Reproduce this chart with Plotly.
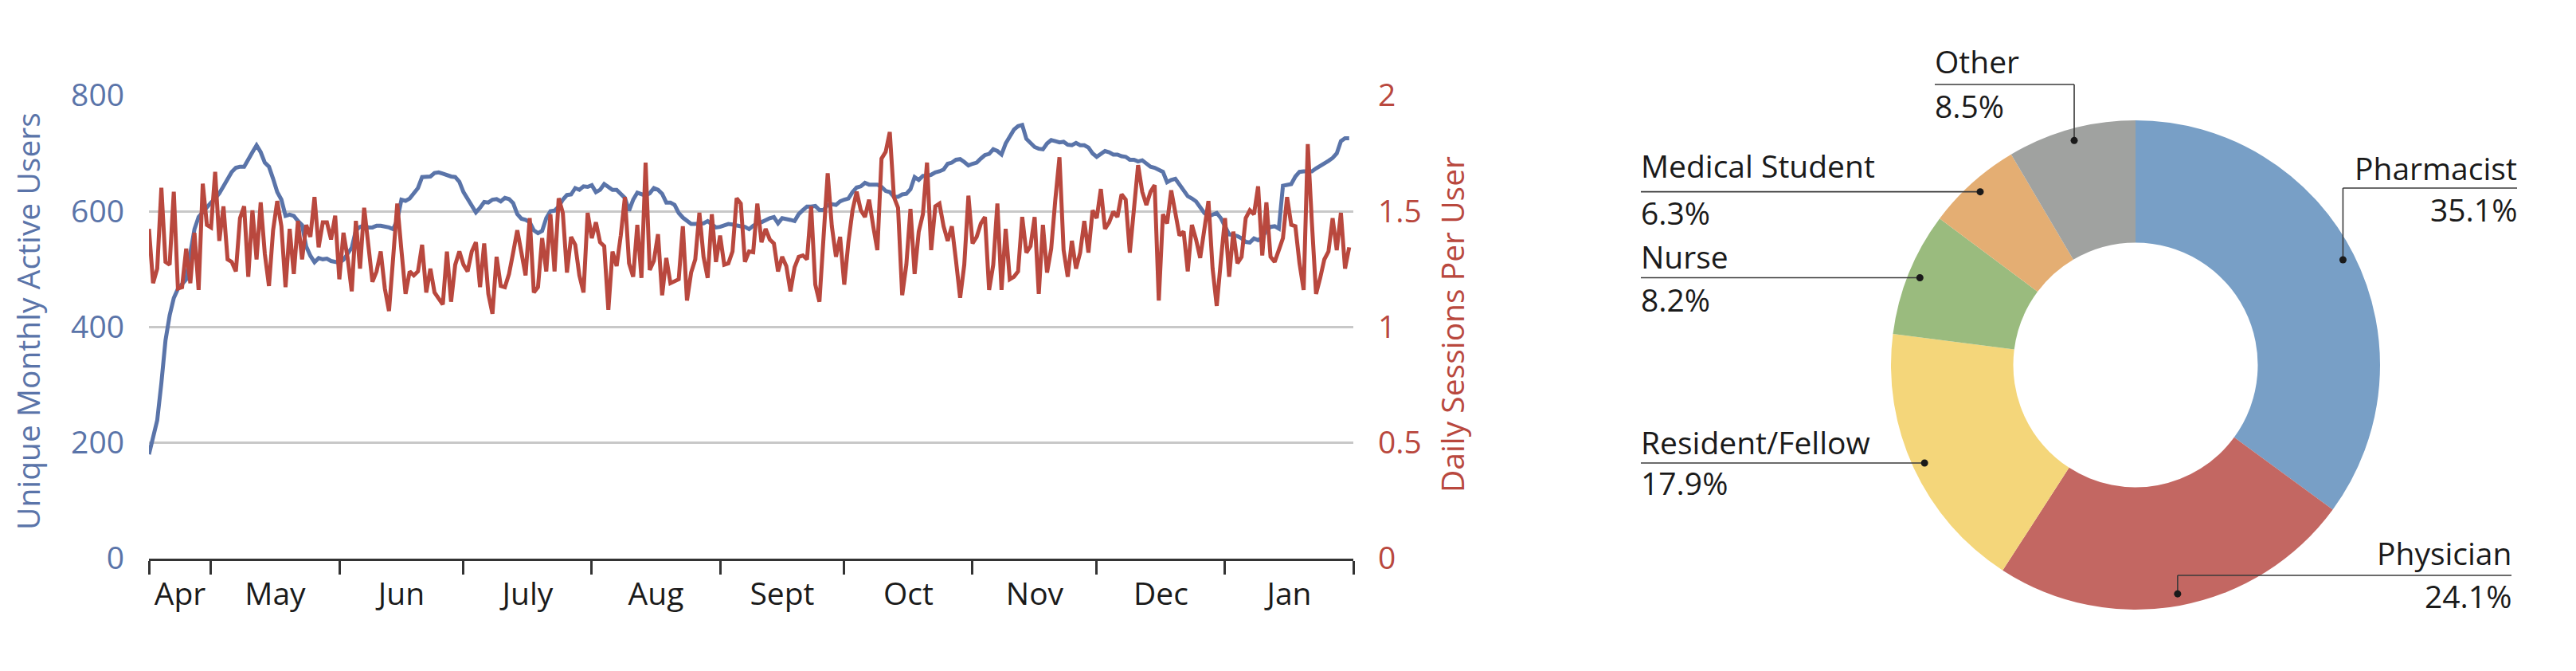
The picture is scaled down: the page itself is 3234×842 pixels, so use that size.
import math
import pandas as pd
import plotly.graph_objects as go

W, H = 3234, 842

# ---------------- data ----------------
start_date = "2017-04-16"

users = [
    180, 207, 239, 303, 377, 420, 450, 466, 473, 482, 528, 569, 590, 599, 606, 615, 622, 631, 643, 654,
    668, 675, 677, 677, 691, 702, 714, 702, 684, 677, 656, 633, 620,
    592, 594, 592, 583, 576, 539, 523, 512, 519, 517, 518, 514, 512, 511, 516, 526, 537, 567, 573, 575,
    572, 572, 575, 575, 574, 572, 569, 585, 620, 618, 622, 631,
    640, 659, 659, 660, 666, 667, 665, 662, 660, 659, 651, 633, 622, 611, 598, 606, 616, 615, 620, 621,
    617, 623, 621, 614, 595, 587, 585, 581, 567, 562, 566, 588,
    600, 601, 608, 620, 628, 629, 640, 637, 643, 642, 645, 633, 637, 647, 641, 637, 637, 631, 623, 601,
    620, 632, 629, 627, 631, 640, 637, 630, 615, 615, 611, 597,
    589, 583, 578, 578, 578, 579, 583, 577, 572, 573, 575, 578, 577, 575, 574, 573, 569, 575, 579, 581,
    585, 588, 590, 579, 588, 587, 585, 583, 595, 602, 608, 608,
    609, 602, 602, 611, 612, 611, 617, 620, 622, 633, 641, 643, 649, 646, 646, 646, 642, 635, 633, 625,
    625, 629, 630, 638, 659, 654, 661, 661, 663, 667, 669, 672, 682,
    684, 689, 690, 685, 679, 682, 684, 691, 697, 699, 707, 704, 698, 717, 730, 741, 747, 749, 725, 718,
    711, 708, 707, 717, 723, 721, 719, 720, 715, 714, 718, 714,
    714, 710, 700, 694, 700, 704, 702, 698, 698, 695, 694, 689, 689, 686, 688, 682, 677, 675, 671, 668,
    650, 654, 656, 645, 636, 626, 622, 617, 607, 597, 591, 594,
    597, 588, 572, 560, 559, 557, 553, 547, 546, 553, 550, 555, 566, 573, 574, 570, 644, 646, 647, 660,
    668, 669, 669, 669, 674, 678, 682, 687, 692, 700, 721, 726, 726,
]

sessions = [
    1.424, 1.189, 1.252, 1.601, 1.281, 1.269, 1.584, 1.166, 1.172, 1.338, 1.189, 1.407, 1.160, 1.619,
    1.441, 1.430, 1.670, 1.372, 1.521, 1.292, 1.281, 1.240, 1.470, 1.521, 1.217, 1.504, 1.292, 1.538,
    1.315, 1.177, 1.418, 1.544, 1.435,
    1.172, 1.424, 1.229, 1.458, 1.292, 1.441, 1.389, 1.561, 1.344, 1.452, 1.452, 1.378, 1.481, 1.206,
    1.407, 1.298, 1.154, 1.458, 1.252, 1.515, 1.366, 1.195, 1.240, 1.326, 1.166, 1.069, 1.298, 1.533,
    1.332, 1.143, 1.240, 1.223,
    1.240, 1.355, 1.149, 1.252, 1.149, 1.120, 1.097, 1.326, 1.109, 1.269, 1.326, 1.269, 1.240, 1.326,
    1.366, 1.172, 1.361, 1.143, 1.057, 1.303, 1.177, 1.172, 1.229, 1.321, 1.418, 1.321, 1.223, 1.470,
    1.149, 1.172, 1.384, 1.240,
    1.487, 1.240, 1.556, 1.493, 1.235, 1.389, 1.355, 1.223, 1.149, 1.493, 1.384, 1.452, 1.366, 1.349,
    1.074, 1.326, 1.263, 1.395, 1.561, 1.275, 1.217, 1.441, 1.212, 1.710, 1.246, 1.286, 1.401, 1.137,
    1.298, 1.189, 1.200, 1.206,
    1.435, 1.114, 1.235, 1.292, 1.493, 1.303, 1.212, 1.487, 1.281, 1.395, 1.269, 1.275, 1.326, 1.556,
    1.533, 1.281, 1.326, 1.323, 1.533, 1.366, 1.424, 1.378, 1.361, 1.240, 1.303, 1.263, 1.154, 1.258,
    1.303, 1.309, 1.292, 1.521,
    1.183, 1.109, 1.389, 1.664, 1.435, 1.303, 1.389, 1.183, 1.366, 1.504, 1.584, 1.504, 1.475, 1.550,
    1.435, 1.332, 1.727, 1.756, 1.842, 1.561, 1.515, 1.137, 1.269, 1.510, 1.229, 1.412, 1.487, 1.710,
    1.332, 1.521, 1.533, 1.435, 1.372,
    1.435, 1.286, 1.126, 1.269, 1.567, 1.361, 1.389, 1.447, 1.475, 1.160, 1.269, 1.533, 1.160, 1.424,
    1.206, 1.217, 1.240, 1.475, 1.321, 1.349, 1.475, 1.143, 1.441, 1.235, 1.338, 1.550, 1.733, 1.332,
    1.217, 1.372, 1.252, 1.321,
    1.458, 1.321, 1.504, 1.470, 1.596, 1.424, 1.452, 1.498, 1.475, 1.573, 1.550, 1.321, 1.521, 1.699,
    1.584, 1.527, 1.584, 1.613, 1.114, 1.487, 1.447, 1.590, 1.493, 1.395, 1.412, 1.240, 1.441, 1.378,
    1.298, 1.412, 1.544, 1.252,
    1.091, 1.286, 1.470, 1.217, 1.412, 1.275, 1.303, 1.470, 1.504, 1.487, 1.607, 1.309, 1.538, 1.303,
    1.281, 1.332, 1.384, 1.561, 1.441, 1.435, 1.275, 1.160, 1.790, 1.447, 1.143, 1.212, 1.292, 1.326,
    1.470, 1.332, 1.493, 1.252, 1.344,
]

month_names = ["Apr", "May", "Jun", "July", "Aug", "Sept", "Oct", "Nov", "Dec", "Jan"]
month_bounds = ["2017-04-16", "2017-05-01", "2017-06-01", "2017-07-01", "2017-08-01",
                "2017-09-01", "2017-10-01", "2017-11-01", "2017-12-01", "2018-01-01", "2018-02-01"]

users_ticks = [0, 200, 400, 600, 800]
sessions_ticks = [0, 0.5, 1, 1.5, 2]
sessions_ticktext = ["0", "0.5", "1", "1.5", "2"]

roles = ["Pharmacist", "Physician", "Resident/Fellow", "Nurse", "Medical Student", "Other"]
shares = [35.1, 24.1, 17.9, 8.2, 6.3, 8.5]

# ---------------- styles ----------------
FONT = "Open Sans"
BLUE = "#5a74a9"
RED = "#b9483e"
GRID = "#c8c8c8"
AXIS = "#333333"
role_colors = ["#789fc6", "#c36762", "#f4d67a", "#9abb7e", "#e4ae73", "#a0a2a0"]

def px_x(x):
    return x / W

def px_y(y):
    return 1 - y / H

dates = pd.date_range(start_date, periods=len(users), freq="D")
dates_s = pd.date_range(start_date, periods=len(sessions), freq="D")

bounds = pd.to_datetime(month_bounds)
label_pos = [bounds[i] + (bounds[i + 1] - bounds[i]) / 2 for i in range(len(month_names))]

fig = go.Figure()

fig.add_trace(go.Scatter(x=dates, y=users, mode="lines", name="Unique Monthly Active Users",
                         line=dict(color=BLUE, width=5), yaxis="y", showlegend=False))
fig.add_trace(go.Scatter(x=dates_s, y=sessions, mode="lines", name="Daily Sessions Per User",
                         line=dict(color=RED, width=5), yaxis="y2", showlegend=False))

# pie geometry (px)
CX, CY, R = 2681, 458, 307
fig.add_trace(go.Pie(
    labels=roles, values=shares, sort=False, direction="clockwise", rotation=0,
    hole=0.5, textinfo="none", showlegend=False, automargin=False,
    marker=dict(colors=role_colors, line=dict(width=0)),
    domain=dict(x=[px_x(CX - R), px_x(CX + R)], y=[px_y(CY + R), px_y(CY - R)]),
))

fig.update_layout(
    width=W, height=H, autosize=False,
    margin=dict(l=0, r=0, t=0, b=0, pad=0, autoexpand=False),
    paper_bgcolor="white", plot_bgcolor="white",
    font=dict(family=FONT, size=39, color="#1a1a1a"),
    xaxis=dict(
        type="date", domain=[px_x(187), px_x(1699)],
        range=[bounds[0], bounds[-1]], automargin=False,
        tickmode="array", tickvals=label_pos, ticktext=month_names,
        ticks="", showgrid=False, zeroline=False,
        showline=True, linecolor=AXIS, linewidth=3,
        tickfont=dict(size=39, color="#1a1a1a"),
        ticklabelstandoff=8,
        minor=dict(tickmode="array", tickvals=list(bounds), ticks="outside",
                   ticklen=17, tickwidth=3, tickcolor=AXIS, showgrid=False),
        anchor="y",
    ),
    yaxis=dict(
        domain=[px_y(700.8), px_y(119.8)], range=[0, 800], automargin=False,
        tickmode="array", tickvals=users_ticks,
        showgrid=True, gridcolor=GRID, gridwidth=2.5, zeroline=False,
        ticks="", showline=False,
        tickfont=dict(size=39, color=BLUE), ticklabelstandoff=30,
        anchor="x",
    ),
    yaxis2=dict(
        overlaying="y", side="right", range=[0, 2], anchor="x", automargin=False,
        tickmode="array", tickvals=sessions_ticks, ticktext=sessions_ticktext,
        showgrid=False, zeroline=False, ticks="", showline=False,
        tickfont=dict(size=39, color=RED), ticklabelstandoff=30,
    ),
)

annotations = [
    dict(text="Unique Monthly Active Users", x=px_x(35), y=px_y(403), xref="paper", yref="paper",
         textangle=-90, showarrow=False, xanchor="center", yanchor="middle",
         font=dict(size=39, color=BLUE)),
    dict(text="Daily Sessions Per User", x=px_x(1823), y=px_y(407), xref="paper", yref="paper",
         textangle=-90, showarrow=False, xanchor="center", yanchor="middle",
         font=dict(size=39, color=RED)),
]
shapes = []

# label layout per role: (side, text edge x, label cap top, value cap top, elbow line y or None)
label_layout = {
    "Pharmacist": ("right", 3160, 196, 248, 236),
    "Physician": ("right", 3153, 679, 733, 722),
    "Resident/Fellow": ("left", 2060, 540, 591, None),
    "Nurse": ("left", 2060, 307, 361, None),
    "Medical Student": ("left", 2060, 193, 252, None),
    "Other": ("left", 2429, 62, 118, 106),
}
R_DOT = 292
total = sum(shares)
cum = 0.0
for role, share in zip(roles, shares):
    mid = (cum + share / 2) / total * 2 * math.pi
    cum += share
    dx = CX + R_DOT * math.sin(mid)
    dy = CY - R_DOT * math.cos(mid)
    side, tx, cap_l, cap_v, ly = label_layout[role]
    line_y = dy if ly is None else ly
    shapes.append(dict(type="line", xref="paper", yref="paper",
                       x0=px_x(tx), x1=px_x(dx), y0=px_y(line_y), y1=px_y(line_y),
                       line=dict(color="#3a3a3a", width=1.6)))
    if ly is not None:
        shapes.append(dict(type="line", xref="paper", yref="paper",
                           x0=px_x(dx), x1=px_x(dx), y0=px_y(line_y), y1=px_y(dy),
                           line=dict(color="#3a3a3a", width=1.6)))
    rd = 4.5
    shapes.append(dict(type="circle", xref="paper", yref="paper",
                       x0=px_x(dx - rd), x1=px_x(dx + rd), y0=px_y(dy + rd), y1=px_y(dy - rd),
                       fillcolor="#1a1a1a", line=dict(width=0)))
    xa = "left" if side == "left" else "right"
    ax = tx - 2 if side == "left" else tx + 2
    annotations.append(dict(text=role, x=px_x(ax), y=px_y(cap_l - 14), xref="paper", yref="paper",
                            showarrow=False, xanchor=xa, yanchor="top",
                            font=dict(size=39, color="#1a1a1a")))
    annotations.append(dict(text=f"{share:.1f}%", x=px_x(ax), y=px_y(cap_v - 14), xref="paper",
                            yref="paper", showarrow=False, xanchor=xa, yanchor="top",
                            font=dict(size=39, color="#1a1a1a")))

fig.update_layout(annotations=annotations, shapes=shapes)

fig.write_html("out.html", config={"displayModeBar": False},
               post_script="document.body.style.margin='0';")
